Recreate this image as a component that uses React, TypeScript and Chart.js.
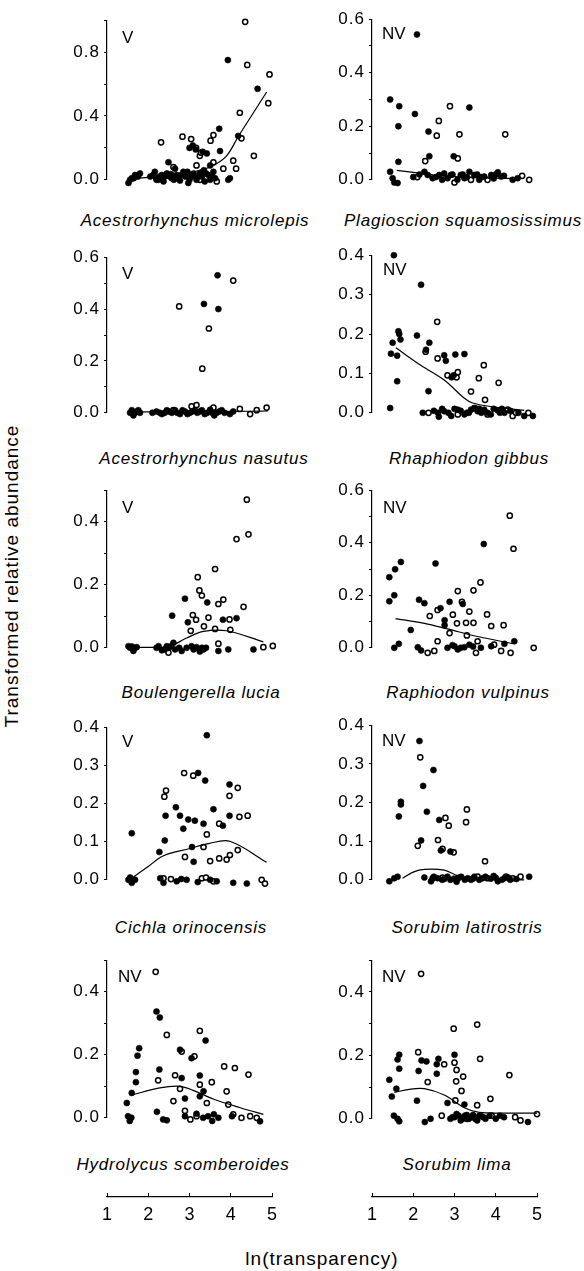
import React, { useEffect, useRef } from 'react';
import { Chart, registerables } from 'chart.js';

Chart.register(...registerables);

type Pt = [number, number];

// ---------- text ----------
const speciesNames = [
  'Acestrorhynchus microlepis',
  'Plagioscion squamosissimus',
  'Acestrorhynchus nasutus',
  'Rhaphiodon gibbus',
  'Boulengerella lucia',
  'Raphiodon vulpinus',
  'Cichla orinocensis',
  'Sorubim latirostris',
  'Hydrolycus scomberoides',
  'Sorubim lima',
];
const guildLabels = ['V', 'NV', 'V', 'NV', 'V', 'NV', 'V', 'NV', 'NV', 'NV'];
const yAxisTitle = 'Transformed relative abundance';
const xAxisTitle = 'ln(transparency)';
const xTickLabels = ['1', '2', '3', '4', '5'];

// ---------- y scales ----------
const yMaxValues = [1.0, 0.6, 0.6, 0.4, 0.5, 0.6, 0.4, 0.4, 0.5, 0.5];
const yTickSteps = [0.2, 0.1, 0.1, 0.1, 0.1, 0.1, 0.1, 0.1, 0.1, 0.1];
const yLabelSteps = [0.4, 0.2, 0.2, 0.1, 0.2, 0.2, 0.1, 0.1, 0.2, 0.2];

// ---------- data: Acestrorhynchus microlepis ----------
const microlepisFilled: Pt[] = [
  [3.93, 0.75], [4.65, 0.57], [4.18, 0.275], [3.72, 0.32], [3.74, 0.18], [3.08, 0.215], [3.32, 0.175], [3.42, 0.165],
  [2.49, 0.11], [3.98, 0.01], [3.94, 0.0], [1.52, -0.02], [1.6, 0.01], [1.68, 0.03], [1.8, 0.04], [2.12, 0.03],
  [2.2, 0.0], [2.28, 0.02], [2.37, -0.01], [2.45, 0.04], [2.57, 0.01], [2.69, 0.03], [2.77, -0.005], [2.85, 0.05],
  [2.97, -0.02], [3.05, 0.02], [3.17, 0.0], [3.25, 0.04], [3.37, -0.01], [3.46, 0.03], [3.58, 0.05], [3.62, 0.01],
  [1.56, 0.0], [2.16, 0.05], [2.33, 0.03], [2.52, 0.02], [2.62, 0.0], [2.9, 0.02], [3.1, 0.04], [3.3, 0.02],
  [3.5, 0.0], [2.05, 0.02], [3.0, 0.2], [3.15, 0.19], [2.65, 0.07], [3.5, 0.09],
  [1.65, 0.01], [1.75, 0.02], [2.25, 0.0], [2.4, 0.02], [2.55, 0.035], [2.7, 0.01], [2.8, 0.03], [3.0, 0.0],
  [3.2, 0.02], [3.4, 0.04], [3.55, 0.02], [2.95, 0.05], [3.35, 0.06],
];
const microlepisOpen: Pt[] = [
  [4.35, 0.99], [4.4, 0.72], [4.94, 0.66], [4.91, 0.48], [4.22, 0.42], [4.56, 0.15], [4.26, 0.26], [2.31, 0.235],
  [2.83, 0.27], [3.04, 0.255], [3.58, 0.28], [3.51, 0.245], [3.25, 0.15], [4.06, 0.12], [4.13, 0.07], [3.82, 0.07],
  [3.66, -0.01], [2.61, 0.08], [3.17, 0.09], [3.33, 0.05], [3.58, 0.11], [2.93, 0.03], [3.25, 0.0], [3.16, 0.2],
  [3.28, 0.17], [2.2, 0.01],
];
const microlepisFit: Pt[] = [
  [1.7, 0.01], [2.0, 0.015], [2.5, 0.025], [3.0, 0.045], [3.25, 0.06], [3.58, 0.09], [3.9, 0.15], [4.18, 0.27],
  [4.5, 0.4], [4.87, 0.55],
];

// ---------- data: Plagioscion squamosissimus ----------
const plagioscionFilled: Pt[] = [
  [2.09, 0.543], [1.44, 0.3], [1.66, 0.275], [1.64, 0.2], [2.04, 0.246], [2.37, 0.18], [3.36, 0.27], [1.64, 0.067],
  [2.39, 0.088], [2.98, 0.088], [1.44, 0.03], [1.5, 0.006], [1.54, -0.01], [1.62, -0.012], [2.27, 0.03], [2.35, 0.018],
  [2.47, 0.006], [2.63, 0.018], [2.75, 0.024], [2.83, 0.006], [2.91, 0.018], [3.07, 0.0], [3.15, 0.018], [3.24, 0.006],
  [3.36, 0.03], [3.48, 0.018], [3.6, 0.0], [3.72, 0.012], [3.89, 0.018], [4.05, 0.028], [4.13, 0.012], [4.41, 0.0],
  [4.53, 0.006], [2.0, 0.01], [2.15, 0.02], [2.55, 0.01], [2.7, 0.0], [2.95, 0.02], [3.2, 0.02], [3.3, 0.01],
  [3.55, 0.02], [3.65, 0.01], [3.95, 0.005], [4.2, 0.015], [4.0, 0.02],
];
const plagioscionOpen: Pt[] = [
  [2.89, 0.275], [2.62, 0.22], [2.57, 0.165], [3.12, 0.17], [4.23, 0.17], [2.29, 0.07], [3.08, 0.08], [4.64, 0.015],
  [4.81, 0.0], [3.0, -0.01], [2.1, 0.01], [3.4, 0.0], [3.8, 0.0],
];
const plagioscionFit: Pt[] = [
  [1.6, 0.035], [2.0, 0.028], [2.5, 0.018], [3.0, 0.012], [3.5, 0.008], [4.0, 0.006], [4.5, 0.005],
];

// ---------- data: Acestrorhynchus nasutus ----------
const nasutusFilled: Pt[] = [
  [3.68, 0.53], [3.35, 0.42], [3.7, 0.4], [1.56, 0.0], [1.64, -0.01], [1.72, 0.005], [1.8, 0.0], [2.2, 0.005],
  [2.33, -0.005], [2.45, 0.01], [2.57, 0.0], [2.77, -0.005], [2.89, 0.005], [3.01, 0.0], [3.25, 0.005], [3.37, -0.005],
  [3.5, 0.012], [3.66, 0.0], [3.78, 0.01], [3.98, -0.005], [4.06, 0.005], [4.02, -0.02], [2.1, 0.0], [2.65, 0.01],
  [3.13, 0.01], [3.43, 0.0], [1.6, 0.01], [1.68, 0.0], [1.76, 0.01], [2.28, 0.0], [2.4, 0.0], [2.5, 0.005],
  [2.7, 0.0], [2.83, 0.01], [2.95, -0.005], [3.07, 0.005], [3.19, 0.0], [3.3, 0.01], [3.55, 0.0], [3.6, -0.01],
  [3.72, 0.005], [3.85, 0.0],
];
const nasutusOpen: Pt[] = [
  [2.75, 0.41], [4.06, 0.51], [3.47, 0.325], [3.31, 0.17], [2.61, 0.01], [3.05, 0.025], [3.58, 0.02], [4.22, 0.015],
  [4.47, -0.005], [4.63, 0.01], [4.87, 0.02], [2.65, -0.025], [3.17, 0.03], [1.62, 0.0],
];
const nasutusFit: Pt[] = [
  [1.55, 0.003], [2.5, 0.004], [3.5, 0.005], [4.5, 0.006], [4.9, 0.007],
];

// ---------- data: Rhaphiodon gibbus ----------
const gibbusFilled: Pt[] = [
  [1.53, 0.4], [2.19, 0.325], [1.44, 0.012], [1.61, 0.08], [1.46, 0.15], [1.61, 0.145], [1.5, 0.178], [1.64, 0.207],
  [1.69, 0.186], [2.09, 0.196], [2.39, 0.178], [2.31, 0.16], [2.37, 0.055], [2.75, 0.146], [2.79, 0.132], [3.02, 0.148],
  [3.24, 0.149], [2.98, 0.095], [2.23, 0.0], [2.27, -0.012], [2.75, 0.004], [2.92, -0.008], [3.08, 0.008], [3.24, -0.004],
  [3.4, 0.008], [3.56, 0.004], [3.72, 0.008], [3.88, -0.004], [4.05, 0.006], [4.21, 0.0], [4.69, -0.008], [4.9, -0.008],
  [3.0, 0.01], [3.3, 0.0], [3.5, 0.012], [3.65, 0.0], [3.95, 0.01], [1.66, 0.2], [2.93, 0.09],
  [2.5, 0.005], [2.6, 0.0], [2.7, 0.01], [2.85, 0.0], [3.15, 0.005], [3.35, 0.0], [3.6, 0.01], [3.8, 0.0],
  [4.1, 0.0], [4.15, 0.01], [4.35, 0.005], [4.55, 0.0], [2.62, -0.01],
];
const gibbusOpen: Pt[] = [
  [2.58, 0.231], [3.71, 0.121], [3.59, 0.088], [4.07, 0.076], [3.4, 0.054], [3.74, 0.033], [2.59, 0.138], [3.08, 0.103],
  [2.83, 0.095], [2.37, 0.0], [3.8, -0.004], [4.29, 0.008], [4.41, -0.008], [4.49, 0.0], [4.79, 0.0], [3.48, 0.012],
  [3.08, -0.004], [2.3, 0.155], [3.05, 0.09],
];
const gibbusFit: Pt[] = [
  [1.58, 0.165], [2.19, 0.12], [2.75, 0.083], [3.24, 0.037], [3.44, 0.025], [3.88, 0.016], [4.69, 0.006],
];

// ---------- data: Boulengerella lucia ----------
const luciaFilled: Pt[] = [
  [2.89, 0.156], [3.43, 0.144], [2.58, 0.102], [2.96, 0.081], [3.81, 0.089], [4.14, 0.094], [3.3, 0.0], [1.56, 0.0],
  [1.64, -0.01], [1.72, 0.002], [2.2, 0.0], [2.33, -0.008], [2.45, 0.005], [2.61, 0.016], [2.65, -0.005], [2.81, -0.01],
  [2.93, 0.0], [3.17, 0.002], [3.25, -0.012], [3.34, -0.005], [3.7, -0.01], [3.94, -0.005], [4.55, -0.005], [1.6, 0.004],
  [2.5, 0.0], [3.05, 0.005], [1.52, 0.005], [1.68, 0.0], [2.25, 0.005], [2.4, -0.005], [2.55, 0.005], [2.75, 0.0],
  [3.1, -0.005], [3.4, 0.0],
];
const luciaOpen: Pt[] = [
  [4.39, 0.47], [4.43, 0.36], [4.14, 0.345], [3.62, 0.25], [3.2, 0.224], [3.24, 0.182], [3.3, 0.166], [3.82, 0.153],
  [3.7, 0.139], [4.31, 0.13], [3.08, 0.104], [3.16, 0.089], [3.46, 0.096], [3.03, 0.054], [3.35, 0.068], [3.62, 0.06],
  [3.97, 0.09], [3.99, 0.057], [3.7, 0.013], [4.79, 0.002], [5.02, 0.006], [2.49, -0.015],
];
const luciaFit: Pt[] = [
  [1.52, 0.002], [2.45, 0.002], [2.93, 0.031], [3.34, 0.052], [3.9, 0.054], [4.79, 0.019],
];

// ---------- data: Raphiodon vulpinus ----------
const vulpinusFilled: Pt[] = [
  [1.7, 0.327], [1.56, 0.299], [1.42, 0.269], [1.54, 0.2], [1.42, 0.177], [2.54, 0.321], [3.71, 0.395], [2.14, 0.183],
  [2.27, 0.17], [2.66, 0.151], [2.88, 0.175], [2.76, 0.105], [2.76, 0.086], [3.2, 0.167], [1.94, 0.068], [1.65, 0.015],
  [1.46, -0.019], [1.54, 0.0], [2.11, 0.002], [2.19, -0.01], [2.83, 0.0], [3.0, 0.006], [3.08, -0.006], [3.24, 0.002],
  [3.36, 0.012], [3.64, 0.0], [3.89, 0.006], [4.21, 0.015], [4.45, 0.025], [2.95, 0.01], [3.15, 0.0], [3.45, 0.005],
];
const vulpinusOpen: Pt[] = [
  [4.34, 0.503], [4.43, 0.377], [3.63, 0.249], [3.46, 0.219], [3.08, 0.216], [3.18, 0.175], [3.36, 0.138], [3.79, 0.127],
  [2.4, 0.121], [2.96, 0.126], [2.59, 0.144], [3.28, 0.095], [3.06, 0.093], [3.46, 0.095], [3.89, 0.083], [4.19, 0.086],
  [2.88, 0.056], [3.3, 0.047], [2.59, 0.025], [2.35, -0.019], [2.51, -0.012], [3.52, -0.019], [4.13, -0.012], [4.36, -0.019],
  [4.92, 0.0], [3.56, 0.025], [3.96, 0.012],
];
const vulpinusFit: Pt[] = [
  [1.57, 0.111], [2.27, 0.093], [2.83, 0.072], [3.56, 0.043], [4.41, 0.016],
];

// ---------- data: Cichla orinocensis ----------
const cichlaFilled: Pt[] = [
  [3.42, 0.379], [3.21, 0.28], [3.38, 0.26], [3.97, 0.25], [3.58, 0.185], [2.67, 0.19], [2.42, 0.168], [2.77, 0.168],
  [2.97, 0.158], [3.13, 0.155], [3.34, 0.147], [2.85, 0.134], [3.81, 0.142], [3.97, 0.168], [1.6, 0.122], [2.4, 0.103],
  [2.27, 0.073], [3.06, 0.086], [3.1, 0.047], [1.52, 0.0], [1.6, -0.008], [1.68, 0.0], [2.29, 0.004], [2.37, -0.008],
  [2.69, -0.004], [2.93, 0.0], [3.66, -0.004], [4.06, -0.008], [4.39, -0.01], [1.56, 0.006], [2.8, 0.002], [3.2, -0.006],
  [3.5, 0.0],
];
const cichlaOpen: Pt[] = [
  [2.87, 0.28], [3.09, 0.273], [2.43, 0.234], [2.39, 0.218], [4.17, 0.241], [3.97, 0.22], [4.41, 0.168], [4.21, 0.165],
  [3.72, 0.147], [3.42, 0.119], [3.34, 0.086], [2.89, 0.06], [3.5, 0.049], [3.72, 0.056], [3.9, 0.053], [3.98, 0.065],
  [4.17, 0.078], [3.3, 0.004], [4.75, 0.0], [4.83, -0.01], [2.37, 0.004], [3.58, -0.004], [2.55, 0.002], [3.4, 0.006],
];
const cichlaFit: Pt[] = [
  [1.6, 0.004], [2.0, 0.035], [2.37, 0.063], [3.01, 0.082], [3.46, 0.095], [3.98, 0.101], [4.87, 0.046],
];

// ---------- data: Sorubim latirostris ----------
const latirostrisFilled: Pt[] = [
  [2.15, 0.359], [2.49, 0.284], [2.24, 0.243], [1.7, 0.202], [1.7, 0.195], [1.65, 0.164], [2.33, 0.176], [2.63, 0.155],
  [2.19, 0.102], [2.9, 0.073], [2.67, 0.076], [1.42, -0.004], [1.54, 0.004], [1.62, 0.008], [2.27, 0.006], [2.43, -0.004],
  [2.59, 0.004], [2.83, 0.008], [2.99, 0.003], [3.16, 0.008], [3.32, 0.004], [3.48, 0.008], [3.68, 0.004], [3.88, 0.003],
  [4.05, -0.004], [4.21, 0.004], [4.81, 0.008], [2.7, 0.0], [3.05, -0.005], [3.4, 0.0], [3.95, 0.01], [4.35, 0.0],
  [2.5, 0.008], [2.75, 0.002], [2.9, 0.0], [3.1, 0.005], [3.25, 0.0], [3.45, 0.003], [3.6, 0.0], [3.75, 0.008],
  [4.0, 0.005], [4.15, 0.0], [4.3, 0.006], [4.5, 0.002],
];
const latirostrisOpen: Pt[] = [
  [2.17, 0.317], [3.3, 0.182], [3.28, 0.149], [2.86, 0.14], [2.78, 0.16], [2.6, 0.103], [2.71, 0.08], [2.98, 0.071],
  [3.74, 0.048], [2.11, 0.088], [2.47, 0.004], [2.71, 0.006], [3.08, 0.004], [3.56, 0.008], [3.8, 0.004], [4.25, 0.008],
  [4.41, 0.004], [4.6, 0.008],
];
const latirostrisFit: Pt[] = [
  [1.74, 0.004], [2.0, 0.02], [2.27, 0.027], [2.75, 0.025], [3.08, 0.011], [3.56, 0.003], [4.69, 0.0],
];

// ---------- data: Hydrolycus scomberoides ----------
const hydrolycusFilled: Pt[] = [
  [2.2, 0.337], [2.28, 0.318], [3.39, 0.245], [2.77, 0.216], [3.05, 0.189], [1.78, 0.221], [1.74, 0.197], [2.27, 0.153],
  [1.7, 0.145], [1.7, 0.113], [2.81, 0.126], [3.25, 0.134], [3.34, 0.084], [2.89, 0.061], [1.6, 0.079], [1.48, 0.047],
  [3.25, 0.068], [1.51, 0.005], [1.55, -0.01], [1.59, 0.0], [2.21, 0.019], [2.36, -0.005], [2.45, -0.008], [2.89, 0.005],
  [3.09, -0.024], [3.17, 0.013], [3.33, 0.0], [3.55, -0.01], [3.59, 0.011], [4.03, 0.005], [3.9, -0.016], [4.71, -0.011],
  [3.45, 0.005], [3.7, 0.0],
];
const hydrolycusOpen: Pt[] = [
  [2.18, 0.463], [2.45, 0.263], [3.25, 0.276], [2.81, 0.21], [3.12, 0.195], [3.84, 0.163], [4.1, 0.158], [4.43, 0.137],
  [2.24, 0.119], [2.65, 0.135], [3.25, 0.105], [3.54, 0.113], [2.77, 0.092], [3.9, 0.084], [2.61, 0.053], [3.42, 0.047],
  [3.94, 0.042], [2.89, 0.022], [3.02, -0.005], [3.17, 0.005], [4.06, 0.011], [4.26, 0.0], [4.47, 0.005], [4.63, 0.0],
  [5.0, -0.02],
];
const hydrolycusFit: Pt[] = [
  [1.59, 0.072], [2.28, 0.095], [2.77, 0.1], [3.09, 0.087], [3.59, 0.059], [4.23, 0.032], [4.79, 0.011],
];

// ---------- data: Sorubim lima ----------
const limaFilled: Pt[] = [
  [1.66, 0.202], [1.62, 0.187], [1.66, 0.158], [1.42, 0.123], [1.59, 0.095], [1.48, 0.07], [2.13, 0.151], [2.2, 0.184],
  [2.32, 0.181], [2.57, 0.172], [2.61, 0.189], [3.0, 0.202], [2.57, 0.142], [2.09, 0.057], [2.83, 0.05], [1.53, 0.01],
  [1.66, -0.008], [1.62, 0.0], [2.28, -0.01], [2.42, 0.0], [2.95, 0.005], [3.05, 0.015], [3.15, -0.005], [3.25, 0.01],
  [3.35, 0.0], [3.45, 0.012], [3.55, -0.005], [3.65, 0.008], [3.75, 0.0], [4.2, 0.005], [4.78, -0.01], [3.24, 0.045],
  [2.9, 0.0], [3.0, 0.005], [3.1, 0.01], [3.2, 0.0], [3.3, 0.012], [3.4, 0.005], [3.5, 0.0], [3.6, 0.01],
  [3.7, 0.005], [3.85, 0.01], [4.0, 0.0], [4.1, 0.01],
];
const limaOpen: Pt[] = [
  [2.19, 0.457], [2.98, 0.284], [3.55, 0.297], [2.12, 0.21], [3.0, 0.177], [3.05, 0.154], [3.21, 0.133], [3.62, 0.189],
  [4.33, 0.138], [2.35, 0.116], [3.04, 0.118], [3.17, 0.088], [3.87, 0.063], [3.02, 0.058], [3.55, 0.043], [2.75, 0.172],
  [2.69, 0.01], [4.47, 0.005], [5.0, 0.015], [3.3, 0.0], [3.9, 0.01], [4.6, -0.005],
];
const limaFit: Pt[] = [
  [1.54, 0.083], [1.9, 0.093], [2.27, 0.095], [2.75, 0.075], [3.24, 0.035], [3.6, 0.02], [4.3, 0.018], [5.0, 0.018],
];

const filledSeries = [
  microlepisFilled, plagioscionFilled, nasutusFilled, gibbusFilled, luciaFilled,
  vulpinusFilled, cichlaFilled, latirostrisFilled, hydrolycusFilled, limaFilled,
];
const openSeries = [
  microlepisOpen, plagioscionOpen, nasutusOpen, gibbusOpen, luciaOpen,
  vulpinusOpen, cichlaOpen, latirostrisOpen, hydrolycusOpen, limaOpen,
];
const fitSeries = [
  microlepisFit, plagioscionFit, nasutusFit, gibbusFit, luciaFit,
  vulpinusFit, cichlaFit, latirostrisFit, hydrolycusFit, limaFit,
];

// ---------- layout (pixels) ----------
const COL_AXIS_X = [107, 372];
const PLOT_W = 165;
const AXIS_W = 50;
const PAD = 12;
const panelTop = [18, 17, 255, 253, 488, 488, 725, 723, 958, 958];
const panelBottom = [182, 182, 415, 415, 650, 650, 882, 882, 1120, 1121];
const titleCx = [195, 463, 204, 469, 201, 468, 191, 467, 183, 457];
const titleCy = [220, 220, 458, 458, 692, 692, 927, 927, 1164, 1164];
const guildX = [122, 382, 122, 383, 122, 383, 122, 382, 118, 382];
const guildY = [37, 33, 273, 269, 507, 507, 741, 740, 976, 976];
const BOTTOM_AXIS_Y = 1197;

const FONT = '"Liberation Sans", Arial, Helvetica, sans-serif';

const spacingPlugin = {
  id: 'letterSpacing',
  beforeDraw(chart: any) {
    try { (chart.ctx as any).letterSpacing = '1px'; } catch (e) { /* ignore */ }
  },
};

const toXY = (arr: Pt[]) => arr.map(([x, y]) => ({ x, y }));

function Panel({ idx }: { idx: number }) {
  const ref = useRef<HTMLCanvasElement>(null);
  const axisX = COL_AXIS_X[idx % 2];
  const plotH = panelBottom[idx] - panelTop[idx];
  const W = AXIS_W + PLOT_W + PAD;
  const H = plotH + 2 * PAD;

  useEffect(() => {
    if (!ref.current) return;
    const labelStep = yLabelSteps[idx];
    const chart = new Chart(ref.current, {
      type: 'scatter',
      data: {
        datasets: [
          {
            data: toXY(fitSeries[idx]),
            showLine: true,
            fill: false,
            pointRadius: 0,
            borderColor: '#000',
            borderWidth: 1.2,
            tension: 0.35,
            order: 0,
            clip: false,
          } as any,
          {
            data: toXY(filledSeries[idx]),
            pointRadius: 3,
            pointBackgroundColor: '#000',
            pointBorderColor: '#000',
            pointBorderWidth: 0.6,
            backgroundColor: '#000',
            borderColor: '#000',
            order: 1,
            clip: false,
          } as any,
          {
            data: toXY(openSeries[idx]),
            pointRadius: 2.6,
            pointBackgroundColor: '#fff',
            pointBorderColor: '#000',
            pointBorderWidth: 1.5,
            backgroundColor: '#fff',
            borderColor: '#000',
            order: 2,
            clip: false,
          } as any,
        ],
      },
      options: {
        animation: false,
        responsive: false,
        maintainAspectRatio: false,
        devicePixelRatio: 1,
        events: [],
        layout: { padding: { left: 0, right: PAD, top: PAD, bottom: PAD } },
        plugins: { legend: { display: false }, tooltip: { enabled: false }, title: { display: false } },
        scales: {
          x: { type: 'linear', display: false, min: 1, max: 5 },
          y: {
            type: 'linear',
            min: 0,
            max: yMaxValues[idx],
            afterFit: (s: any) => { s.width = AXIS_W; },
            border: { display: true, color: '#000', width: 1.2 },
            grid: { display: true, drawOnChartArea: false, drawTicks: true, tickLength: 3, color: '#000', lineWidth: 1 },
            ticks: {
              stepSize: yTickSteps[idx],
              autoSkip: false,
              padding: 4,
              color: '#000',
              font: { family: FONT, size: 17 },
              callback: (value: any) => {
                const v = Number(value);
                const r = v / labelStep;
                return Math.abs(r - Math.round(r)) < 1e-6 ? v.toFixed(1) : '';
              },
            },
          },
        },
      } as any,
      plugins: [spacingPlugin],
    });
    return () => chart.destroy();
  }, [idx]);

  return (
    <canvas
      ref={ref}
      width={W}
      height={H}
      style={{ position: 'absolute', left: axisX - AXIS_W, top: panelTop[idx] - PAD, width: W, height: H }}
    />
  );
}

function BottomAxis({ col }: { col: number }) {
  const ref = useRef<HTMLCanvasElement>(null);
  const axisX = COL_AXIS_X[col];
  const SIDE = 20;
  const TOP_PAD = 8;
  const AREA_H = 4;
  const SCALE_H = 36;
  const W = PLOT_W + 2 * SIDE;
  const H = TOP_PAD + AREA_H + SCALE_H;

  useEffect(() => {
    if (!ref.current) return;
    const chart = new Chart(ref.current, {
      type: 'scatter',
      data: { datasets: [{ data: [] }] },
      options: {
        animation: false,
        responsive: false,
        maintainAspectRatio: false,
        devicePixelRatio: 1,
        events: [],
        layout: { padding: { left: SIDE, right: SIDE, top: TOP_PAD, bottom: 0 } },
        plugins: { legend: { display: false }, tooltip: { enabled: false } },
        scales: {
          x: {
            type: 'linear',
            position: 'bottom',
            min: 1,
            max: 5,
            afterFit: (s: any) => { s.height = SCALE_H; },
            border: { display: true, color: '#000', width: 1.2 },
            grid: { display: true, drawOnChartArea: true, drawTicks: false, color: '#000', lineWidth: 1 },
            ticks: {
              stepSize: 1,
              autoSkip: false,
              padding: 7,
              color: '#000',
              maxRotation: 0,
              font: { family: FONT, size: 18 },
              callback: (_v: any, i: number) => xTickLabels[i] ?? '',
            },
          },
          y: { type: 'linear', display: false, min: 0, max: 1 },
        },
      } as any,
    });
    return () => chart.destroy();
  }, [col]);

  return (
    <canvas
      ref={ref}
      width={W}
      height={H}
      style={{ position: 'absolute', left: axisX - SIDE, top: BOTTOM_AXIS_Y - AREA_H - TOP_PAD, width: W, height: H }}
    />
  );
}

export default function App() {
  const idxs = speciesNames.map((_, i) => i);
  return (
    <div
      style={{
        position: 'absolute',
        left: 0,
        top: 0,
        width: 584,
        height: 1271,
        background: '#fff',
        overflow: 'hidden',
        fontFamily: FONT,
        color: '#000',
      }}
    >
      {idxs.map((i) => (
        <Panel key={'p' + i} idx={i} />
      ))}
      {idxs.map((i) => (
        <div
          key={'t' + i}
          style={{
            position: 'absolute',
            left: titleCx[i],
            top: titleCy[i],
            transform: 'translate(-50%, -50%)',
            whiteSpace: 'nowrap',
            fontStyle: 'italic',
            fontSize: 17,
            lineHeight: 1,
            letterSpacing: '0.8px',
          }}
        >
          {speciesNames[i]}
        </div>
      ))}
      {idxs.map((i) => (
        <div
          key={'g' + i}
          style={{
            position: 'absolute',
            left: guildX[i],
            top: guildY[i],
            transform: 'translateY(-50%)',
            whiteSpace: 'nowrap',
            fontSize: 17,
            lineHeight: 1,
          }}
        >
          {guildLabels[i]}
        </div>
      ))}
      <BottomAxis col={0} />
      <BottomAxis col={1} />
      <div
        style={{
          position: 'absolute',
          left: 11,
          top: 576,
          transform: 'translate(-50%, -50%) rotate(-90deg)',
          whiteSpace: 'nowrap',
          fontSize: 19,
          lineHeight: 1,
          letterSpacing: '1px',
        }}
      >
        {yAxisTitle}
      </div>
      <div
        style={{
          position: 'absolute',
          left: 322,
          top: 1258,
          transform: 'translate(-50%, -50%)',
          whiteSpace: 'nowrap',
          fontSize: 19,
          lineHeight: 1,
          letterSpacing: '1px',
        }}
      >
        {xAxisTitle}
      </div>
    </div>
  );
}
